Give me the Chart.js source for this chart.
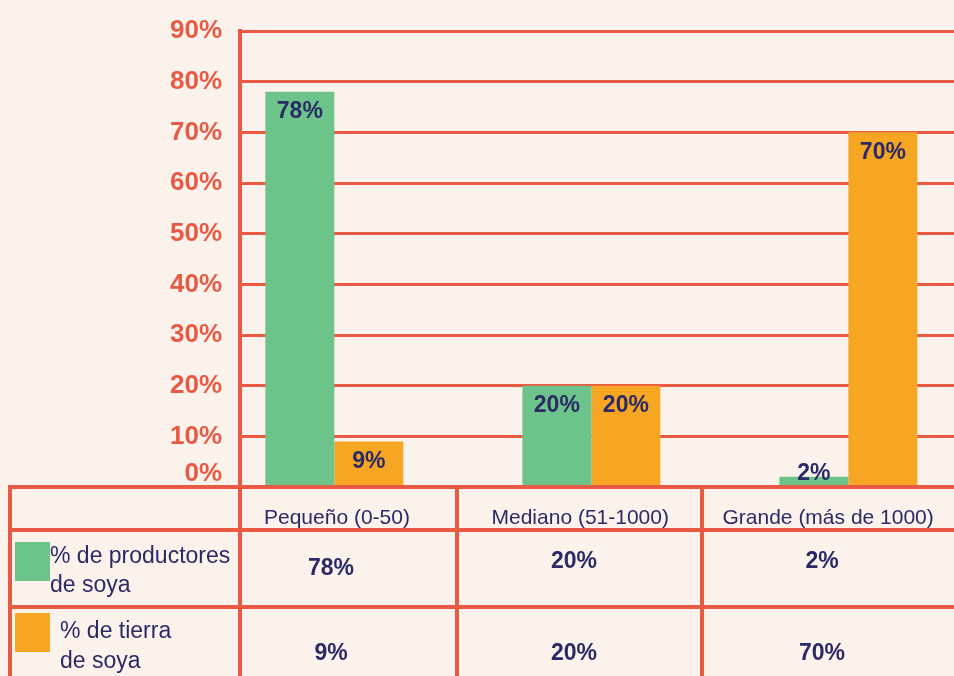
<!DOCTYPE html>
<html>
<head>
<meta charset="utf-8">
<script src="https://cdn.jsdelivr.net/npm/chart.js@4/dist/chart.umd.min.js"></script>
<style>
  html, body { margin:0; padding:0; background:#fcf2ec; }
  #wrap { position:relative; width:954px; height:676px; overflow:hidden; background:#fcf2ec; font-family:"Liberation Sans", Arial, sans-serif; }
  #c { position:absolute; left:0; top:0; }
  .ln { position:absolute; background:#e85a43; }
  .tx { position:absolute; color:#2b2a66; white-space:nowrap; }
</style>
</head>
<body>
<div id="wrap">
  <canvas id="c" width="954" height="676"></canvas>
</div>
<script>
const categories = ['Pequeño (0-50)', 'Mediano (51-1000)', 'Grande (más de 1000)'];
const producers = [78, 20, 2];
const land = [9, 20, 70];
const seriesNames = [['% de productores', 'de soya'], ['% de tierra', 'de soya']];
const yTicks = [0, 10, 20, 30, 40, 50, 60, 70, 80, 90];

const RED = '#e85a43', GREEN = '#6cc48b', ORANGE = '#f6a623', NAVY = '#2b2a66';

const labelPlugin = {
  id: 'barLabels',
  afterDatasetsDraw(chart) {
    const ctx = chart.ctx;
    const base = chart.scales.y.getPixelForValue(0);
    ctx.save();
    ctx.font = 'bold 23px "Liberation Sans", Arial, sans-serif';
    ctx.fillStyle = NAVY;
    ctx.textAlign = 'center';
    ctx.textBaseline = 'middle';
    chart.data.datasets.forEach((ds, di) => {
      chart.getDatasetMeta(di).data.forEach((bar, i) => {
        const y = Math.min(bar.y + 20, base - 13);
        ctx.fillText(ds.data[i].y + '%', bar.x, y);
      });
    });
    ctx.restore();
  }
};

new Chart(document.getElementById('c'), {
  type: 'bar',
  data: {
    datasets: [
      { label: seriesNames[0].join(' '), data: categories.map((c, i) => ({ x: i, y: producers[i] })), backgroundColor: GREEN, borderWidth: 0 },
      { label: seriesNames[1].join(' '), data: categories.map((c, i) => ({ x: i, y: land[i] })), backgroundColor: ORANGE, borderWidth: 0 }
    ]
  },
  options: {
    responsive: false,
    animation: false,
    events: [],
    layout: { padding: { top: 27, right: 0, bottom: 189, left: 0 } },
    datasets: { bar: { categoryPercentage: 0.537, barPercentage: 1 } },
    plugins: { legend: { display: false }, tooltip: { enabled: false } },
    scales: {
      x: {
        type: 'linear',
        offset: false,
        bounds: 'data',
        min: -0.367,
        max: 2.411,
        ticks: { display: false },
        grid: { display: false, offset: false },
        border: { display: false },
        afterBuildTicks: s => { s.ticks = categories.map((c, i) => ({ value: i })); },
        afterFit: s => { s.height = 0; }
      },
      y: {
        min: 0,
        max: 90,
        afterBuildTicks: s => { s.ticks = yTicks.map(v => ({ value: v })); },
        ticks: {
          autoSkip: false,
          callback: v => v === 0 ? ['0%', ''] : v + '%',
          color: RED,
          font: { family: '"Liberation Sans", Arial, sans-serif', size: 26, weight: 'bold', lineHeight: 1.0 },
          padding: 18
        },
        grid: { color: RED, lineWidth: 3, drawTicks: false },
        border: { display: true, color: RED, width: 4 },
        afterFit: s => { s.width = 240; }
      }
    }
  },
  plugins: [labelPlugin]
});

// Data table below the chart
const wrap = document.getElementById('wrap');
function line(x, y, w, h) {
  const d = document.createElement('div');
  d.className = 'ln';
  Object.assign(d.style, { left: x + 'px', top: y + 'px', width: w + 'px', height: h + 'px' });
  wrap.appendChild(d);
}
function text(str, cx, cy, size, bold, align) {
  const d = document.createElement('div');
  d.className = 'tx';
  d.textContent = str;
  d.style.fontSize = size + 'px';
  d.style.fontWeight = bold ? 'bold' : 'normal';
  d.style.lineHeight = size + 'px';
  wrap.appendChild(d);
  const w = d.offsetWidth;
  d.style.left = (align === 'left' ? cx : cx - w / 2) + 'px';
  d.style.top = (cy - size / 2) + 'px';
}
function swatch(x, y, color) {
  const d = document.createElement('div');
  Object.assign(d.style, { position: 'absolute', left: x + 'px', top: y + 'px', width: '35px', height: '39px', background: color });
  wrap.appendChild(d);
}

const colEdges = [10, 240, 457, 702, 954];
const rowLines = [487, 530, 607];
rowLines.forEach(y => line(colEdges[0] - 2, y - 2, colEdges[4] - colEdges[0] + 2, 4));
colEdges.slice(0, 4).forEach(x => line(x - 2, 487, 4, 189));

const colCenters = [337, 580, 828];
categories.forEach((c, i) => text(c, colCenters[i], 516, 21, false));
producers.forEach((v, i) => text(v + '%', colCenters[i] - 6, i === 0 ? 567 : 560, 23, true));
land.forEach((v, i) => text(v + '%', colCenters[i] - 6, 652, 23, true));

swatch(15, 542, GREEN);
swatch(15, 613, ORANGE);
text(seriesNames[0][0], 50, 555, 23, false, 'left');
text(seriesNames[0][1], 50, 584, 23, false, 'left');
text(seriesNames[1][0], 60, 630, 23, false, 'left');
text(seriesNames[1][1], 60, 660, 23, false, 'left');
</script>
</body>
</html>
